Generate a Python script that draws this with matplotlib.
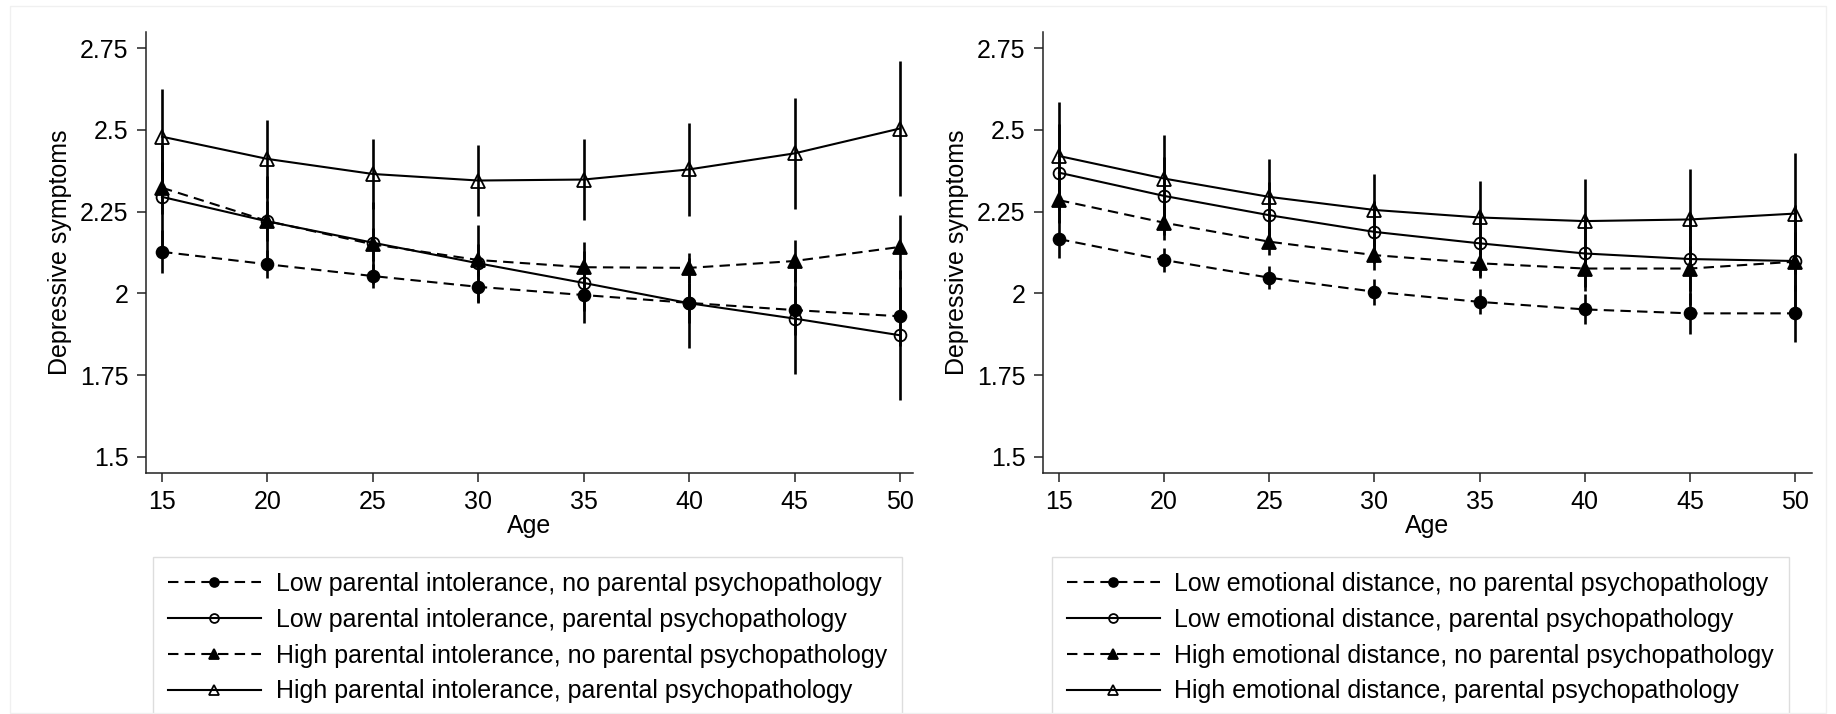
import numpy as np
import matplotlib
matplotlib.use("Agg")
from matplotlib import pyplot as plt
from matplotlib.patches import Rectangle

plt.rcParams['font.family'] = ['Liberation Sans', 'DejaVu Sans']

# ages on the x axis
ages = [15, 20, 25, 30, 35, 40, 45, 50]
y_ticks = [1.5, 1.75, 2, 2.25, 2.5, 2.75]
y_tick_labels = ["1.5", "1.75", "2", "2.25", "2.5", "2.75"]

# left panel: parental intolerance
pi_labels = ["Low parental intolerance, no parental psychopathology",
             "Low parental intolerance, parental psychopathology",
             "High parental intolerance, no parental psychopathology",
             "High parental intolerance, parental psychopathology"]
pi_low_nopp = [2.127, 2.089, 2.053, 2.020, 1.995, 1.971, 1.949, 1.930]
pi_low_nopp_ci = [0.066, 0.043, 0.036, 0.048, 0.050, 0.060, 0.075, 0.090]
pi_low_pp = [2.295, 2.220, 2.155, 2.092, 2.032, 1.970, 1.923, 1.872]
pi_low_pp_ci = [0.160, 0.140, 0.125, 0.117, 0.124, 0.138, 0.168, 0.198]
pi_high_nopp = [2.323, 2.221, 2.150, 2.102, 2.080, 2.078, 2.099, 2.142]
pi_high_nopp_ci = [0.080, 0.060, 0.050, 0.050, 0.050, 0.045, 0.064, 0.097]
pi_high_pp = [2.479, 2.411, 2.365, 2.345, 2.348, 2.379, 2.428, 2.504]
pi_high_pp_ci = [0.145, 0.119, 0.107, 0.108, 0.123, 0.142, 0.170, 0.207]

# right panel: emotional distance
ed_labels = ["Low emotional distance, no parental psychopathology",
             "Low emotional distance, parental psychopathology",
             "High emotional distance, no parental psychopathology",
             "High emotional distance, parental psychopathology"]
ed_low_nopp = [2.166, 2.102, 2.048, 2.005, 1.974, 1.951, 1.939, 1.939]
ed_low_nopp_ci = [0.057, 0.037, 0.035, 0.039, 0.038, 0.046, 0.062, 0.088]
ed_low_pp = [2.369, 2.298, 2.239, 2.188, 2.153, 2.122, 2.105, 2.099]
ed_low_pp_ci = [0.150, 0.120, 0.100, 0.095, 0.100, 0.115, 0.140, 0.170]
ed_high_nopp = [2.285, 2.216, 2.158, 2.117, 2.092, 2.076, 2.076, 2.097]
ed_high_nopp_ci = [0.070, 0.053, 0.041, 0.046, 0.046, 0.055, 0.070, 0.090]
ed_high_pp = [2.420, 2.351, 2.295, 2.255, 2.232, 2.221, 2.226, 2.244]
ed_high_pp_ci = [0.166, 0.133, 0.115, 0.110, 0.112, 0.130, 0.153, 0.184]

# style per series: (marker, filled, dashed)
styles = [("o", True, True), ("o", False, False), ("^", True, True), ("^", False, False)]


def draw_panel(ax, series, cis, labels, xmax):
    x = np.array(ages)
    # error bars first, markers/lines on top
    for vals, ci in zip(series, cis):
        ax.errorbar(x, vals, yerr=ci, fmt="none", ecolor="black",
                    elinewidth=1.9, capsize=0, zorder=2)
    handles = []
    for vals, (mk, filled, dashed), lab in zip(series, styles, labels):
        ms = 8.5 if mk == "o" else 9.5
        line, = ax.plot(x, vals, color="black", lw=1.5, marker=mk, ms=ms,
                        mfc="black" if filled else "none", mec="black", mew=1.3,
                        label=lab, zorder=3)
        if dashed:
            line.set_dashes((5, 3))
        handles.append(line)

    ax.set_xlim(14.24, xmax)
    ax.set_ylim(1.451, 2.799)
    ax.set_xticks(ages)
    ax.set_yticks(y_ticks)
    ax.set_yticklabels(y_tick_labels)
    for s in ["top", "right"]:
        ax.spines[s].set_visible(False)
    for s in ["left", "bottom"]:
        ax.spines[s].set_linewidth(1.1)
        ax.spines[s].set_color("#222222")
    ax.tick_params(axis="both", direction="out", length=6.5, width=1.1,
                   labelsize=18, pad=6, color="#222222")
    ax.set_xlabel("Age", fontsize=18, labelpad=0)
    ax.set_ylabel("Depressive symptoms", fontsize=18, labelpad=6)
    return handles


fig = plt.figure(figsize=(18.36, 7.14), dpi=100)
fig.patch.set_facecolor("white")

# faint outer frame like the original export
fig.patches.append(Rectangle((10 / 1836, 0.002), 1 - 20 / 1836, 1 - 6 / 714 - 0.002,
                             transform=fig.transFigure, fill=False,
                             edgecolor="#f0f0f0", lw=1.0))

ax1 = fig.add_axes([146 / 1836, 1 - 473 / 714, (913 - 146) / 1836, (473 - 32) / 714])
ax2 = fig.add_axes([1043 / 1836, 1 - 473 / 714, (1812 - 1043) / 1836, (473 - 32) / 714])

h1 = draw_panel(ax1, [pi_low_nopp, pi_low_pp, pi_high_nopp, pi_high_pp],
                [pi_low_nopp_ci, pi_low_pp_ci, pi_high_nopp_ci, pi_high_pp_ci],
                pi_labels, 50.62)
h2 = draw_panel(ax2, [ed_low_nopp, ed_low_pp, ed_high_nopp, ed_high_pp],
                [ed_low_nopp_ci, ed_low_pp_ci, ed_high_nopp_ci, ed_high_pp_ci],
                ed_labels, 50.8)

leg_kw = dict(loc="upper left", bbox_transform=fig.transFigure, fontsize=18,
              frameon=True, fancybox=False, framealpha=1, edgecolor="#dddddd",
              handlelength=3.7, handletextpad=0.6, labelspacing=0.47,
              borderpad=0.6, borderaxespad=0, markerscale=0.75)
leg1 = ax1.legend(handles=h1, bbox_to_anchor=(153 / 1836, 1 - 557 / 714), **leg_kw)
leg2 = ax2.legend(handles=h2, bbox_to_anchor=(1052 / 1836, 1 - 557 / 714), **leg_kw)
for leg in (leg1, leg2):
    leg.get_frame().set_linewidth(1.0)

fig.savefig("out.png", dpi=100, facecolor="white")
